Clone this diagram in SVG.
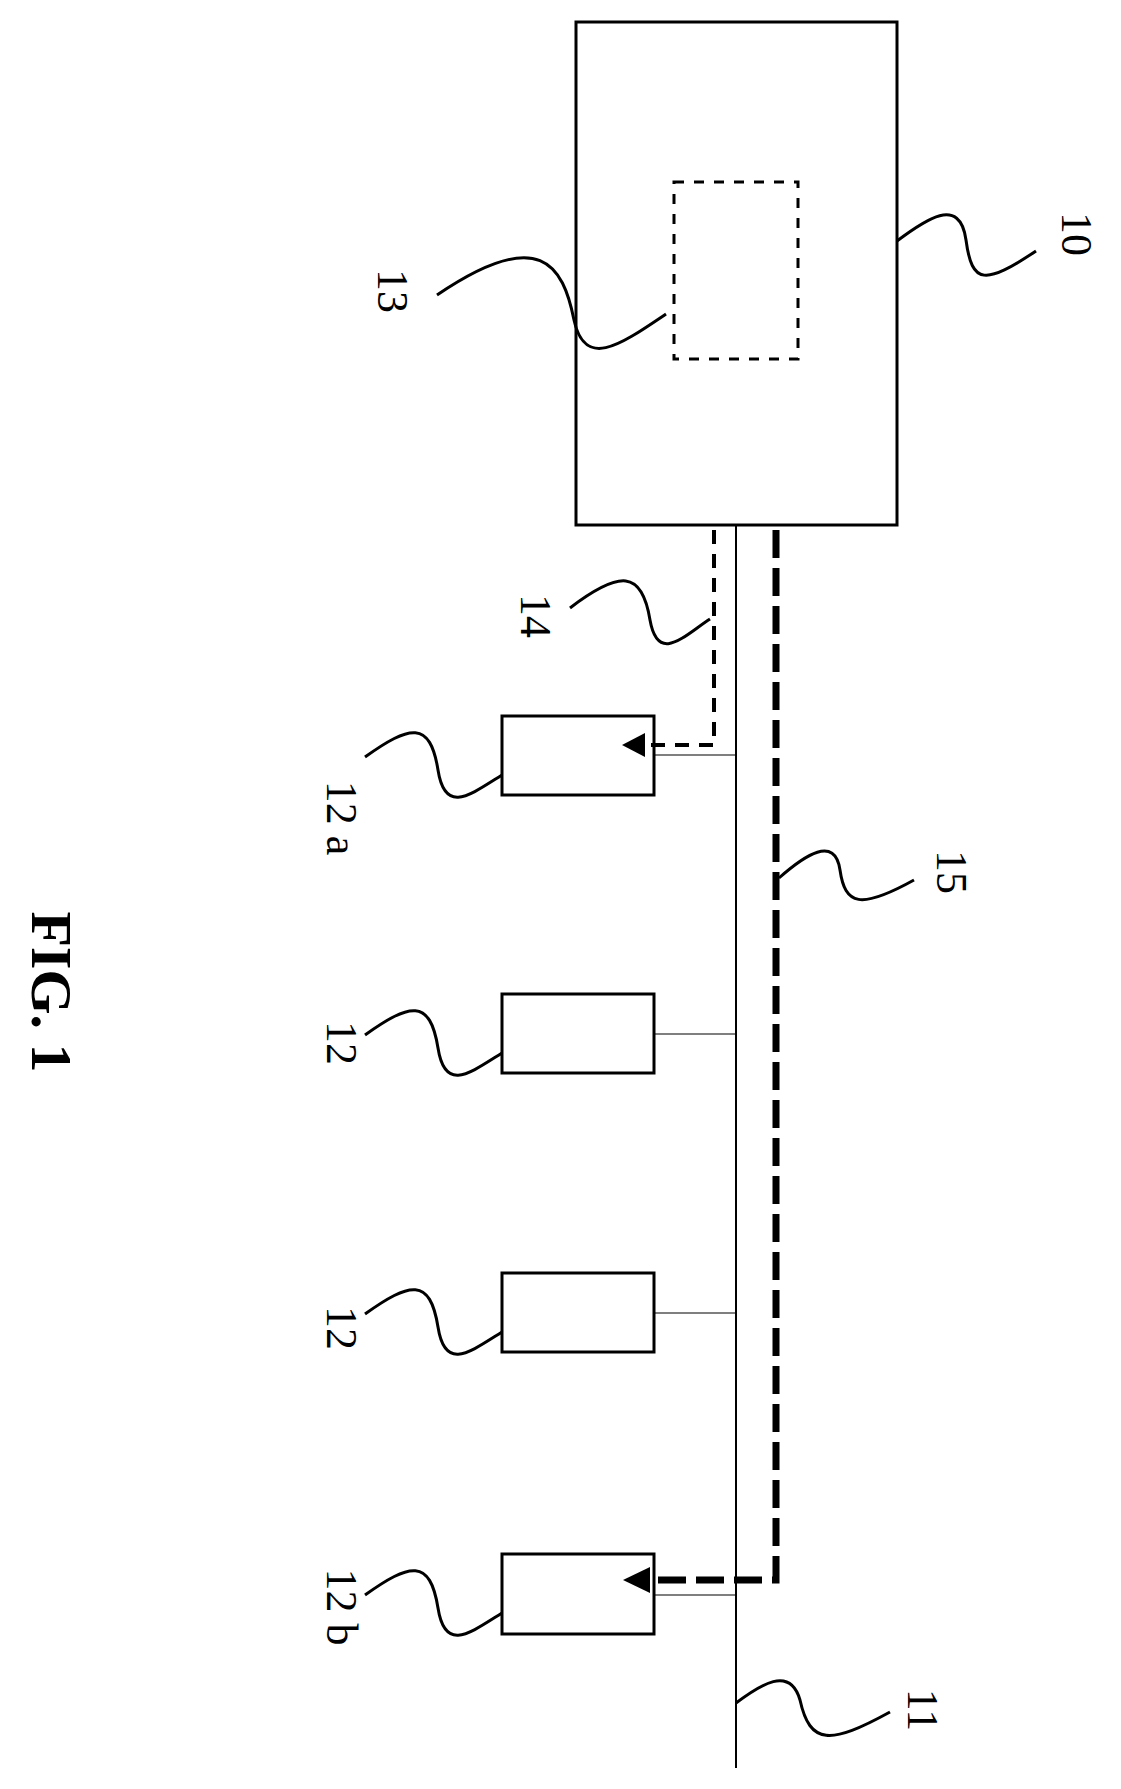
<svg xmlns="http://www.w3.org/2000/svg" width="1121" height="1789" viewBox="0 0 1121 1789">
<style>
.box{fill:#fff;stroke:#000;stroke-width:3}
.lead{fill:none;stroke:#000;stroke-width:3}
.lbl{font-family:"Liberation Serif",serif;font-size:44px;fill:#000}
</style>
<rect width="1121" height="1789" fill="#fff"/>
<g id="n10"><rect class="box" x="576" y="22" width="321" height="503"/>
<path class="lead" d="M897,241 C925,220 960,195 966,240 C972,285 985,285 1036,251"/>
<text class="lbl" transform="translate(1062,234) rotate(90)" text-anchor="middle">10</text></g>
<g id="n13"><rect x="674" y="182" width="124" height="177" fill="none" stroke="#000" stroke-width="3" stroke-dasharray="10,10"/>
<path class="lead" d="M666,314 C620,345 585,370 574,320 C563,265 540,225 437,295"/>
<text class="lbl" transform="translate(378,291) rotate(90)" text-anchor="middle">13</text></g>
<g id="n14"><path class="lead" d="M710,619 C685,635 658,665 650,620 C642,570 620,570 570,608"/>
<text class="lbl" transform="translate(521,616) rotate(90)" text-anchor="middle">14</text></g>
<g id="n12a"><rect class="box" x="502" y="716" width="152" height="79"/>
<path class="lead" d="M502,775 C470,795 445,815 438,770 C430,720 410,725 365,757"/>
<text class="lbl" transform="translate(327,818) rotate(90)" text-anchor="middle">12 a</text></g>
<g id="n12_1"><rect class="box" x="502" y="994" width="152" height="79"/>
<path class="lead" d="M502,1053 C470,1073 445,1093 438,1048 C430,998 410,1003 365,1035"/>
<text class="lbl" transform="translate(327,1043) rotate(90)" text-anchor="middle">12</text></g>
<g id="n12_2"><rect class="box" x="502" y="1273" width="152" height="79"/>
<path class="lead" d="M502,1332 C470,1352 445,1372 438,1327 C430,1277 410,1282 365,1314"/>
<text class="lbl" transform="translate(327,1328) rotate(90)" text-anchor="middle">12</text></g>
<g id="n12b"><rect class="box" x="502" y="1554" width="152" height="80"/>
<path class="lead" d="M502,1613 C470,1633 445,1653 438,1608 C430,1558 410,1563 365,1595"/>
<text class="lbl" transform="translate(327,1607) rotate(90)" text-anchor="middle">12 b</text></g>
<g id="n15"><path class="lead" d="M779,878 C805,855 835,835 840,870 C845,905 860,910 914,880"/>
<text class="lbl" transform="translate(937,872) rotate(90)" text-anchor="middle">15</text></g>
<g id="n11"><path class="lead" d="M736,1703 C760,1685 790,1665 800,1700 C810,1745 830,1745 890,1712"/>
<text class="lbl" transform="translate(908,1710) rotate(90)" text-anchor="middle">11</text></g>
<text transform="translate(32,992) rotate(90)" text-anchor="middle" font-family="Liberation Serif,serif" font-size="58" font-weight="bold">FIG. 1</text>
<g id="connectors">
<line x1="736" y1="525" x2="736" y2="1768" stroke="#000" stroke-width="2"/>
<line x1="655" y1="755" x2="736" y2="755" stroke="#000" stroke-width="1.2"/>
<line x1="655" y1="1034" x2="736" y2="1034" stroke="#000" stroke-width="1.2"/>
<line x1="655" y1="1313" x2="736" y2="1313" stroke="#000" stroke-width="1.2"/>
<line x1="655" y1="1595" x2="736" y2="1595" stroke="#000" stroke-width="1.2"/>
<polyline points="714,530 714,745 645,745" fill="none" stroke="#000" stroke-width="4" stroke-dasharray="14,10"/>
<polygon points="622,745 645,733 645,757" fill="#000"/>
<polyline points="776,530 776,1580 650,1580" fill="none" stroke="#000" stroke-width="7" stroke-dasharray="28,10"/>
<polygon points="623,1580 650,1567 650,1593" fill="#000"/>
</g>
</svg>
